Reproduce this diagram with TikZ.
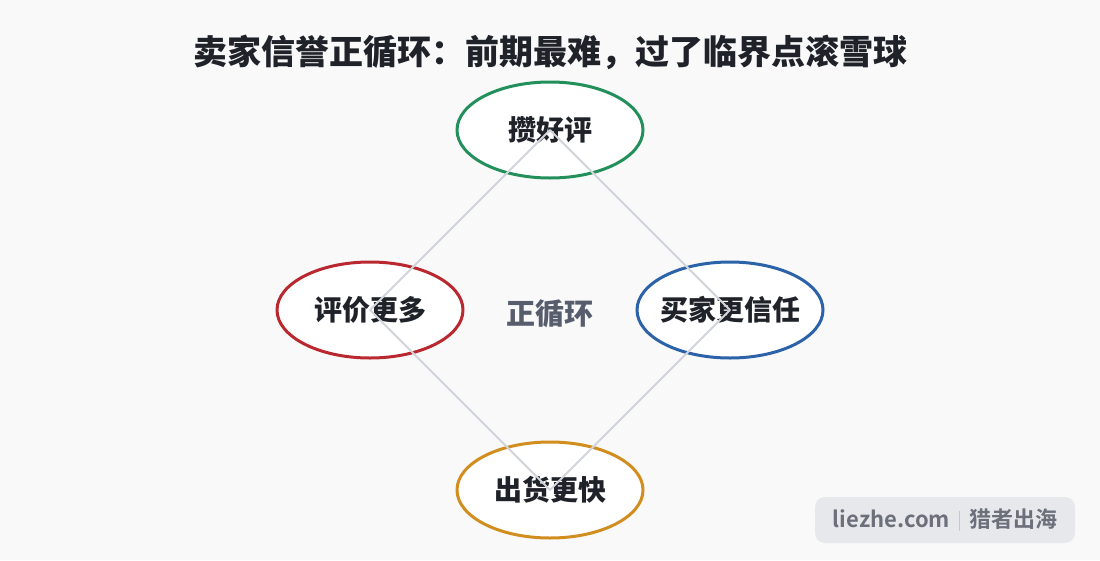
\documentclass[tikz,border=0pt]{standalone}
\usepackage{fontspec}
\setmainfont{Noto Sans CJK SC}[BoldFont={Noto Sans CJK SC Bold}]
\newfontfamily\heavyfont{Noto Sans CJK SC Black}
\usetikzlibrary{shapes.geometric}
\definecolor{bgcol}{HTML}{F9F9FA}
\definecolor{inkcol}{HTML}{1F2329}
\definecolor{midcol}{HTML}{575D6C}
\definecolor{linkcol}{HTML}{D1D4DA}
\definecolor{greencol}{HTML}{23905C}
\definecolor{redcol}{HTML}{B8282E}
\definecolor{bluecol}{HTML}{2B62A8}
\definecolor{orangecol}{HTML}{D18E1F}
\definecolor{markbg}{HTML}{E7E8EB}
\definecolor{markfg}{HTML}{6C707B}
\definecolor{marksep}{HTML}{C4C7CD}
\begin{document}
\begin{tikzpicture}[x=1pt,y=-1pt,line cap=round,line join=round]
		\tikzset{stage/.style={ellipse,draw=#1,line width=3pt,fill=white,
				minimum width=186pt,minimum height=96pt,inner xsep=-15pt,inner ysep=0pt,
				text=inkcol,font=\fontsize{28}{28}\selectfont\heavyfont},
			link/.style={draw=linkcol,line width=2pt}
		}
		\useasboundingbox[fill=bgcol] (0,0) rectangle (1100,560);
		\node[text=inkcol,font=\fontsize{34}{34}\selectfont\heavyfont] (title) at (550,52) {卖家信誉正循环：前期最难，过了临界点滚雪球};
		\node[stage=greencol] (praise) at (550,130) {攒好评};
		\node[stage=redcol] (reviews) at (370,310) {评价更多};
		\node[stage=bluecol] (trust) at (730,310) {买家更信任};
		\node[stage=orangecol] (ship) at (550,490) {出货更快};
		\node[text=midcol,font=\fontsize{29}{29}\selectfont\heavyfont] (loop) at (550,314) {正循环};
		\draw[link] (praise.center)--(trust.center)--(ship.center)--(reviews.center)--(praise.center);
		% watermark
		\node[fill=markbg,rounded corners=10pt,minimum width=260pt,minimum height=46pt,
		text=markfg,font=\fontsize{22}{22}\selectfont\bfseries] (mark) at (945,520)
		{liezhe.com\hspace{9pt}\textcolor{marksep}{\rule[-3pt]{1.2pt}{20pt}}\hspace{9pt}猎者出海};
	\end{tikzpicture}
\end{document}
